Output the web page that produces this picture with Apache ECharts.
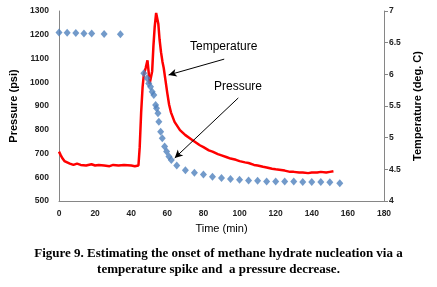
<!DOCTYPE html>
<html><head><meta charset="utf-8">
<script src="https://cdn.jsdelivr.net/npm/echarts@6/dist/echarts.min.js"></script>
<style>html,body{margin:0;padding:0;background:#fff}#c{width:437px;height:287px}</style>
</head><body><div id="c"></div>
<script>
const timeTicks = [0,20,40,60,80,100,120,140,160,180];
const pressureTime = [0,4.5,9.3,13.8,18.1,25,34,47,48.8,49.7,50.7,51.6,52.5,53.5,54,54.8,55.3,56.3,57.2,58.5,59.6,60.9,62.2,65.2,70,75,80,85,90,95,100,105,110,115,120,125,130,135,140,145,150,155.5];
const pressureVal = [1210,1208,1207,1205,1205,1203,1202,1038,1017,995,981,960,946,904,891,869,834,792,764,729,708,687,673,649,630,619,612,602,597,593,589,586,585,582,582,582,582,580,580,580,579,575];
const tempTime = [0,1,2,3,4,6,8,10,12,15,18,20,22,25,28,30,33,36,40,42,44,44.7,45.5,46.3,47,48,49,49.6,50.2,51,51.6,52.3,53,53.8,54.4,55,55.7,56.5,57.3,58,59,60,61,62,64,67,70,73,75,78,80,83,85,88,90,93,95,98,100,103,105,108,110,113,115,118,120,123,125,128,130,133,135,138,140,143,145,148,150,152];
const tempVal = [4.78,4.72,4.67,4.63,4.61,4.59,4.57,4.59,4.57,4.56,4.58,4.56,4.57,4.56,4.55,4.57,4.56,4.57,4.56,4.55,4.56,4.85,5.4,5.8,6.0,6.1,6.22,6.05,5.85,5.84,6.05,6.45,6.75,6.97,6.95,6.8,6.55,6.35,6.2,6.1,5.9,5.7,5.52,5.4,5.25,5.12,5.04,4.98,4.94,4.88,4.85,4.8,4.78,4.74,4.72,4.69,4.67,4.65,4.63,4.61,4.6,4.57,4.56,4.54,4.53,4.51,4.5,4.49,4.48,4.46,4.46,4.45,4.45,4.44,4.45,4.45,4.46,4.45,4.46,4.47];
const pressureTicks = [500,600,700,800,900,1000,1100,1200,1300];
const tempTicks = [4,4.5,5,5.5,6,6.5,7];

const chart = echarts.init(document.getElementById('c'), null, {renderer:'canvas'});
const axisStyle = {lineStyle:{color:'#868686',width:1}};
chart.setOption({
  animation:false,
  grid:{left:59,right:53,top:11,bottom:86},
  xAxis:{type:'value',min:timeTicks[0],max:timeTicks[timeTicks.length-1],interval:20,
    name:'Time (min)',nameLocation:'middle',nameGap:22,
    nameTextStyle:{fontFamily:'Liberation Sans',fontSize:11,color:'#000'},
    axisLine:axisStyle,axisTick:{show:false},splitLine:{show:false},
    axisLabel:{fontFamily:'Liberation Sans',fontSize:8.5,fontWeight:'bold',color:'#222',margin:8,formatter:v=>String(v)}},
  yAxis:[
    {type:'value',min:pressureTicks[0],max:pressureTicks[pressureTicks.length-1],interval:100,
     name:'Pressure (psi)',nameLocation:'middle',nameGap:32,nameRotate:90,
     nameTextStyle:{fontFamily:'Liberation Sans',fontSize:11,fontWeight:'bold',color:'#000'},
     axisLine:{show:true,lineStyle:{color:'#868686'}},axisTick:{show:false},splitLine:{show:false},
     axisLabel:{fontFamily:'Liberation Sans',fontSize:8.5,fontWeight:'bold',color:'#222',margin:10,formatter:v=>String(v)}},
    {type:'value',min:tempTicks[0],max:tempTicks[tempTicks.length-1],interval:0.5,position:'right',
     name:'Temperature (deg. C)',nameLocation:'middle',nameGap:28,nameRotate:90,
     nameTextStyle:{fontFamily:'Liberation Sans',fontSize:11,fontWeight:'bold',color:'#000'},
     axisLine:{show:true,lineStyle:{color:'#868686'}},axisTick:{show:true,length:4,lineStyle:{color:'#868686'}},splitLine:{show:false},
     axisLabel:{fontFamily:'Liberation Sans',fontSize:8.5,fontWeight:'bold',color:'#222',margin:5,formatter:v=>String(v)}}
  ],
  series:[
    {type:'line',name:'Temperature',yAxisIndex:1,data:tempTime.map((t,i)=>[t,tempVal[i]]),
     showSymbol:false,lineStyle:{color:'#ff0000',width:2.5},itemStyle:{color:'#ff0000'},z:2,
     markLine:{silent:true,symbol:['none','arrow'],symbolSize:[6,8],label:{show:false},
       lineStyle:{color:'#000',width:1,type:'solid'},
       data:[[{coord:[91.5,6.24]},{coord:[60.7,5.99]}]]}},
    {type:'scatter',name:'Pressure',yAxisIndex:0,data:pressureTime.map((t,i)=>[t,pressureVal[i]]),
     symbol:'diamond',symbolSize:[7,8],itemStyle:{color:'#4f81bd'},z:3,
     markLine:{silent:true,symbol:['none','arrow'],symbolSize:[6,8],label:{show:false},
       lineStyle:{color:'#000',width:1,type:'solid'},
       data:[[{coord:[99.3,934]},{coord:[64.1,681]}]]}}
  ],
  graphic:[
    {type:'text',left:190,top:41,style:{text:'Temperature',font:'12px "Liberation Sans"',fill:'#000'}},
    {type:'text',left:214,top:81,style:{text:'Pressure',font:'12px "Liberation Sans"',fill:'#000'}},
    {type:'text',left:'center',top:247,style:{text:'Figure 9. Estimating the onset of methane hydrate nucleation via a',font:'bold 13px "Liberation Serif"',fill:'#000'}},
    {type:'text',left:'center',top:263,style:{text:'temperature spike and  a pressure decrease.',font:'bold 13px "Liberation Serif"',fill:'#000'}}
  ]
});
</script></body></html>
